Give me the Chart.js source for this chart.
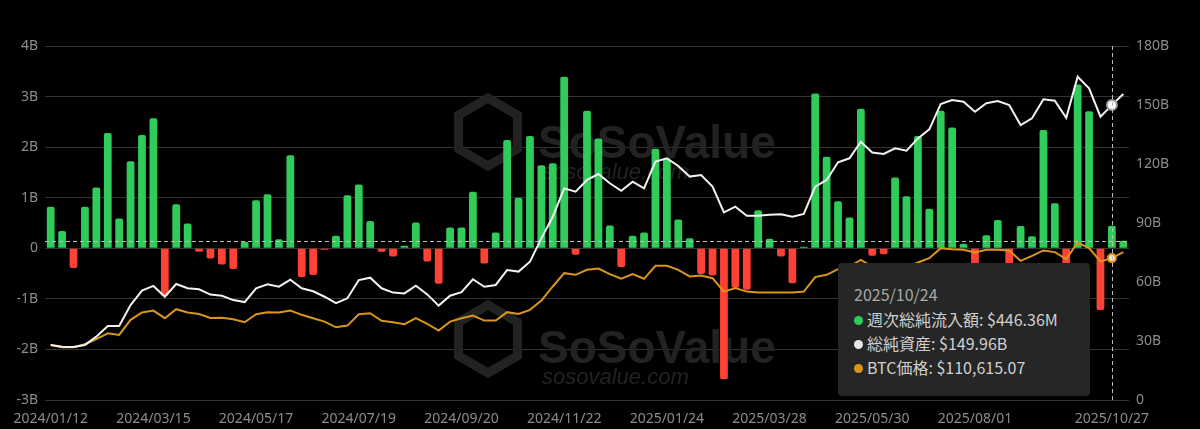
<!DOCTYPE html>
<html>
<head>
<meta charset="utf-8">
<script src="https://cdn.jsdelivr.net/npm/chart.js@4"></script>
<style>
    body { margin: 0; background: #000; }
    #wrap { position: relative; width: 1200px; height: 429px; background: #000; }
    #tip {
        position: absolute; left: 838px; top: 263px; width: 252px; height: 133px;
        background: #262626; border-radius: 4px; box-sizing: border-box;
        padding: 19px 0 0 16px; font-family: "Noto Sans CJK JP", "Noto Sans", sans-serif;
        font-size: 16px; color: #cfcfcf;
    }
    #tip .date { color: #a8a8a8; font-size: 16px; line-height: 25px; }
    #tip .row { line-height: 24px; white-space: nowrap; }
    #tip .dot { display: inline-block; width: 9px; height: 9px; border-radius: 50%; margin: 0 4px 0 0; vertical-align: 1px; }
</style>
</head>
<body>
<div id="wrap">
    <canvas id="chart" width="1200" height="429"></canvas>
    <div id="tip"></div>
</div>
<script>
// weekly net inflow (B USD), total net assets (B USD), BTC price (k USD)
const startDate = "2024/01/12";
const weekCount = 95;

const netInflow = [
    0.82, 0.34, -0.39, 0.82, 1.20, 2.28, 0.59, 1.72, 2.24, 2.57,
    -0.94, 0.87, 0.49, -0.07, -0.20, -0.32, -0.41, 0.13, 0.95, 1.07,
    0.18, 1.84, -0.57, -0.53, -0.03, 0.25, 1.05, 1.26, 0.54, -0.07,
    -0.16, 0.05, 0.51, -0.26, -0.70, 0.41, 0.41, 1.12, -0.30, 0.31,
    2.14, 1.00, 2.22, 1.64, 1.68, 3.39, -0.13, 2.72, 2.17, 0.45,
    -0.37, 0.25, 0.31, 1.97, 1.78, 0.57, 0.20, -0.51, -0.54, -2.59,
    -0.78, -0.82, 0.75, 0.19, -0.16, -0.69, 0.03, 3.06, 1.81, 0.93,
    0.61, 2.76, -0.15, -0.12, 1.40, 1.03, 2.22, 0.78, 2.72, 2.39,
    0.09, -0.64, 0.26, 0.56, -1.17, 0.44, 0.24, 2.34, 0.89, -0.90,
    3.24, 2.71, -1.22, 0.44636, 0.15
];

const totalAssets = [
    28.0, 27.1, 27.0, 28.0, 32.2, 37.6, 37.6, 48.3, 55.6, 58.0,
    52.5, 59.0, 56.8, 56.3, 53.6, 53.0, 50.8, 49.8, 56.8, 58.8,
    57.6, 61.2, 56.8, 55.3, 52.5, 49.2, 51.7, 61.0, 62.2, 56.8,
    54.6, 54.2, 58.1, 53.7, 48.0, 53.0, 54.8, 61.4, 57.6, 58.5,
    66.1, 65.3, 70.3, 82.2, 93.2, 107.6, 105.9, 111.9, 114.9, 110.2,
    106.4, 111.0, 107.6, 121.2, 122.9, 119.0, 113.6, 114.4, 108.5, 95.4,
    98.3, 93.7, 93.7, 94.2, 94.4, 93.2, 94.6, 108.5, 111.9, 120.9,
    122.9, 131.3, 125.8, 125.1, 128.0, 126.8, 133.0, 137.6, 150.5, 152.5,
    151.7, 146.6, 150.9, 152.0, 150.0, 139.8, 143.2, 152.9, 152.2, 143.5,
    164.4, 158.5, 144.1, 149.96, 155.6
];

const btcPrice = [
    42.9, 41.1, 41.1, 43.5, 47.4, 52.0, 50.7, 62.5, 68.2, 69.7,
    63.8, 70.8, 68.2, 67.1, 64.0, 64.2, 63.0, 60.6, 66.9, 68.5,
    68.2, 69.7, 66.4, 63.8, 61.1, 56.7, 58.0, 66.9, 67.7, 61.7,
    60.6, 59.1, 63.8, 59.3, 54.1, 61.1, 63.8, 65.8, 61.9, 61.9,
    68.5, 67.1, 70.3, 77.5, 88.5, 98.9, 97.6, 101.5, 102.5, 98.1,
    94.5, 98.1, 94.5, 104.6, 104.6, 101.5, 96.3, 97.0, 95.0, 84.5,
    87.2, 84.5, 83.8, 83.8, 83.8, 83.8, 84.5, 95.8, 97.6, 102.0,
    104.0, 109.3, 104.0, 105.5, 105.8, 103.3, 107.2, 110.6, 118.4, 117.6,
    117.1, 115.0, 117.1, 117.1, 116.6, 108.5, 112.4, 116.6, 115.3, 109.8,
    122.8, 118.4, 108.0, 110.61507, 115.3
];

const tickIndexes = [0, 9, 18, 27, 36, 45, 54, 63, 72, 81, 93];
const tickLabels = ["2024/01/12", "2024/03/15", "2024/05/17", "2024/07/19", "2024/09/20",
    "2024/11/22", "2025/01/24", "2025/03/28", "2025/05/30", "2025/08/01", "2025/10/27"];

const activeIndex = 93;

const GREEN = "#2fcc5a";
const RED = "#ff4136";
const WHITE = "#f2f2f2";
const ORANGE = "#d9961a";

// week labels
function buildWeeks() {
    const weeks = [];
    const [y, m, d] = startDate.split("/").map(Number);
    const date = new Date(y, m - 1, d);
    for (let i = 0; i < weekCount; i++) {
        const mm = String(date.getMonth() + 1).padStart(2, "0");
        const dd = String(date.getDate()).padStart(2, "0");
        weeks.push(`${date.getFullYear()}/${mm}/${dd}`);
        date.setDate(date.getDate() + 7);
    }
    return weeks;
}
const weeks = buildWeeks();

// faint watermark behind the data
const watermark = {
    id: "watermark",
    beforeDatasetsDraw(chart) {
        const ctx = chart.ctx;
        ctx.save();
        [[95, 158], [302, 363]].forEach(([top, base]) => {
            // hexagon logo
            ctx.strokeStyle = "#222";
            ctx.lineWidth = 9;
            ctx.beginPath();
            const cx = 488, cy = top + 37, r = 34;
            for (let k = 0; k < 6; k++) {
                const a = Math.PI / 3 * k - Math.PI / 2;
                const px = cx + r * Math.cos(a), py = cy + r * Math.sin(a);
                k === 0 ? ctx.moveTo(px, py) : ctx.lineTo(px, py);
            }
            ctx.closePath();
            ctx.stroke();
            ctx.fillStyle = "#222";
            ctx.font = "bold 46px 'Liberation Sans', sans-serif";
            ctx.textBaseline = "alphabetic";
            ctx.fillText("SoSoValue", 538, base);
            ctx.font = "italic 22px 'Liberation Sans', sans-serif";
            ctx.fillText("sosovalue.com", 542, base + 21);
        });
        ctx.restore();
    }
};

// dashed crosshair lines
const crosshair = {
    id: "crosshair",
    afterDatasetsDraw(chart) {
        const ctx = chart.ctx;
        const area = chart.chartArea;
        const x = chart.scales.x.getPixelForValue(activeIndex);
        const y = chart.scales.y.getPixelForValue(netInflow[netInflow.length - 1]);
        ctx.save();
        ctx.lineWidth = 1;
        ctx.setLineDash([4, 3]);
        ctx.strokeStyle = "#bdbdbd";
        ctx.beginPath();
        ctx.moveTo(area.left, Math.round(y) + 0.5);
        ctx.lineTo(area.right, Math.round(y) + 0.5);
        ctx.stroke();
        ctx.beginPath();
        ctx.moveTo(Math.round(x) + 0.5, area.top);
        ctx.lineTo(Math.round(x) + 0.5, area.bottom);
        ctx.stroke();
        ctx.restore();
    }
};

const tickFont = { family: "'Noto Sans', sans-serif", size: 14 };

new Chart(document.getElementById("chart"), {
    type: "bar",
    data: {
        labels: weeks,
        datasets: [
            {
                type: "line",
                label: "総純資産",
                data: totalAssets,
                yAxisID: "y1",
                borderColor: WHITE,
                borderWidth: 2,
                tension: 0,
                pointRadius: (c) => c.dataIndex === activeIndex ? 5 : 0,
                pointBackgroundColor: "#ffffff",
                pointBorderColor: "#9a9a9a",
                pointBorderWidth: 2,
                order: 1,
            },
            {
                type: "line",
                label: "BTC価格",
                data: btcPrice,
                yAxisID: "y2",
                borderColor: ORANGE,
                borderWidth: 2,
                tension: 0,
                pointRadius: (c) => c.dataIndex === activeIndex ? 4 : 0,
                pointBackgroundColor: "#f5e6c4",
                pointBorderColor: ORANGE,
                pointBorderWidth: 2,
                order: 2,
            },
            {
                label: "週次総純流入額",
                data: netInflow,
                yAxisID: "y",
                backgroundColor: netInflow.map(v => v >= 0 ? GREEN : RED),
                borderRadius: 2,
                borderSkipped: "start",
                barPercentage: 0.68,
                categoryPercentage: 1,
                order: 3,
            },
        ],
    },
    options: {
        responsive: false,
        animation: false,
        devicePixelRatio: 1,
        layout: { padding: { top: 46, left: 0, right: 0, bottom: 0 } },
        plugins: {
            legend: { display: false },
            tooltip: { enabled: false },
        },
        scales: {
            x: {
                offset: true,
                grid: { display: false },
                border: { display: false },
                ticks: {
                    autoSkip: false,
                    maxRotation: 0,
                    color: "#8c8c8c",
                    font: tickFont,
                    padding: 3,
                    callback: (v, i) => {
                        const k = tickIndexes.indexOf(i);
                        return k >= 0 ? tickLabels[k] : "";
                    },
                },
                afterFit: (s) => { s.height = 29; },
            },
            y: {
                position: "left",
                min: -3,
                max: 4,
                grid: { color: "#333333", drawTicks: false },
                border: { display: false },
                ticks: {
                    stepSize: 1,
                    color: "#8c8c8c",
                    font: tickFont,
                    padding: 7,
                    callback: (v) => v === 0 ? "0" : v + "B",
                },
                afterFit: (s) => { s.width = 45; },
            },
            y1: {
                position: "right",
                min: 0,
                max: 180,
                grid: { display: false, drawTicks: false },
                border: { display: false },
                ticks: {
                    stepSize: 30,
                    color: "#8c8c8c",
                    font: tickFont,
                    padding: 7,
                    callback: (v) => v === 0 ? "0" : v + "B",
                },
                afterFit: (s) => { s.width = 71; },
            },
            y2: {
                display: false,
                min: 0,
                max: 276,
            },
        },
    },
    plugins: [watermark, crosshair],
});

// tooltip box for the active week
function fmtMoney(v, digits) {
    return "$" + v.toLocaleString("en-US", { minimumFractionDigits: digits, maximumFractionDigits: digits });
}
const tip = document.getElementById("tip");
tip.innerHTML = `
    <div class="date">${weeks[activeIndex]}</div>
    <div class="row"><span class="dot" style="background:${GREEN}"></span>週次総純流入額: ${fmtMoney(netInflow[activeIndex] * 1000, 2)}M</div>
    <div class="row"><span class="dot" style="background:#e8e8e8"></span>総純資産: ${fmtMoney(totalAssets[activeIndex], 2)}B</div>
    <div class="row"><span class="dot" style="background:${ORANGE}"></span>BTC価格: ${fmtMoney(btcPrice[activeIndex] * 1000, 2)}</div>
`;
</script>
</body>
</html>
